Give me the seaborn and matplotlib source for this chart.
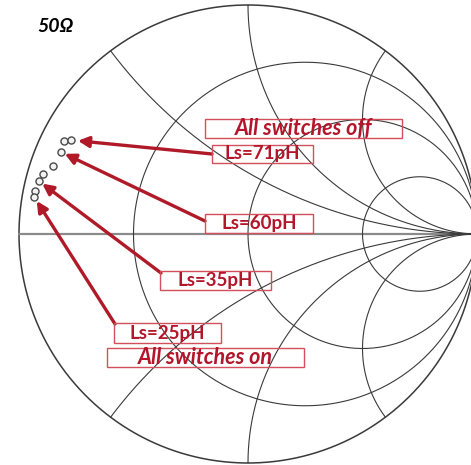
import numpy as np
import pandas as pd
import matplotlib
matplotlib.use('Agg')
import matplotlib.pyplot as plt
from matplotlib.patches import Rectangle
import seaborn as sns

# Smith chart grid values (normalized to 50 ohm)
r_circles = [1/3, 1, 3]
x_arcs = [0.5, 1, 2]

gamma_re = [-0.803, -0.773, -0.817, -0.852, -0.895, -0.913, -0.930, -0.934]
gamma_im = [0.406, 0.410, 0.358, 0.297, 0.262, 0.231, 0.188, 0.162]

# labels: text, index of the point the arrow points to
label_text = ['Ls=71pH', 'Ls=60pH', 'Ls=35pH', 'Ls=25pH']
label_target = [1, 2, 5, 7]
state_text = ['All switches off', 'All switches on']

# layout in pixels of the 471x465 picture
CX, CY, R = 248, 234, 229
W, H = 471, 465


def to_g(px, py):
    return (px - CX) / R, (CY - py) / R


sns.set_style('white')
plt.rcParams['font.family'] = ['Lato', 'DejaVu Sans']

fig = plt.figure(figsize=(W / 100, H / 100), dpi=100)
ax = fig.add_axes([0, 0, 1, 1])
ax.set_xlim(to_g(0, 0)[0], to_g(W, 0)[0])
ax.set_ylim(to_g(0, H)[1], to_g(0, 0)[1])
ax.axis('off')

grid_c = '#3a3a3a'
# outer circle
t = np.linspace(0, 2 * np.pi, 800)
ax.plot(np.cos(t), np.sin(t), color=grid_c, lw=1.1)
# real axis
ax.plot([-1, 1], [0, 0], color='#8a8a8a', lw=1.6)

# constant resistance circles
xs = np.concatenate([-np.logspace(4, -3, 600), np.logspace(-3, 4, 600)])
for r in r_circles:
    z = r + 1j * xs
    g = (z - 1) / (z + 1)
    ax.plot(g.real, g.imag, color=grid_c, lw=0.8)

# constant reactance arcs
rs = np.concatenate([[0], np.logspace(-3, 4, 800)])
for x in x_arcs:
    for s in (1, -1):
        z = rs + 1j * s * x
        g = (z - 1) / (z + 1)
        ax.plot(g.real, g.imag, color=grid_c, lw=0.8)

pts = pd.DataFrame({'re': gamma_re, 'im': gamma_im})
sns.scatterplot(data=pts, x='re', y='im', ax=ax, s=26, marker='o',
                facecolor='#f2f2f2', edgecolor='#4a4a4a', linewidth=1.0, zorder=5)

red_txt = '#b3162a'
red_box = '#d2505c'
red_arrow = '#b01a28'

# boxes: (x0, x1, y0, y1) in pixels
ls_boxes = [(212, 313, 145, 163), (205, 313, 214, 233),
            (160, 271, 271, 290), (114, 221, 323, 343)]
ls_tails = [(212, 154), (205, 221), (161, 273), (115, 324)]
ls_shrink = [5, 3, 3, 3.5]
state_boxes = [(205, 402, 119, 138), (107, 304, 348, 367)]


def draw_box(b, text, style, size):
    x0, y1 = to_g(b[0], b[3])
    x1, y0 = to_g(b[1], b[2])
    ax.add_patch(Rectangle((x0, y1), x1 - x0, y0 - y1, fill=False,
                           edgecolor=red_box, lw=1.0, zorder=6))
    ax.text((x0 + x1) / 2, (y0 + y1) / 2, text, ha='center', va='center',
            color=red_txt, fontsize=size, fontweight='bold', fontstyle=style, zorder=7)


for b, s in zip(state_boxes, state_text):
    draw_box(b, s, 'italic', 15.5)

for b, s, tail, idx, sh in zip(ls_boxes, label_text, ls_tails, label_target, ls_shrink):
    draw_box(b, s, 'normal', 13.5)
    ax.annotate('', xy=(gamma_re[idx], gamma_im[idx]), xytext=to_g(*tail),
                arrowprops=dict(arrowstyle='-|>', color=red_arrow, lw=2.4,
                                mutation_scale=16, shrinkA=0, shrinkB=sh),
                zorder=4)

ax.text(*to_g(55, 26), '50\u03a9', ha='center', va='center', fontsize=14,
        fontweight='bold', fontstyle='italic', color='black')

fig.savefig('out.png', dpi=100)
